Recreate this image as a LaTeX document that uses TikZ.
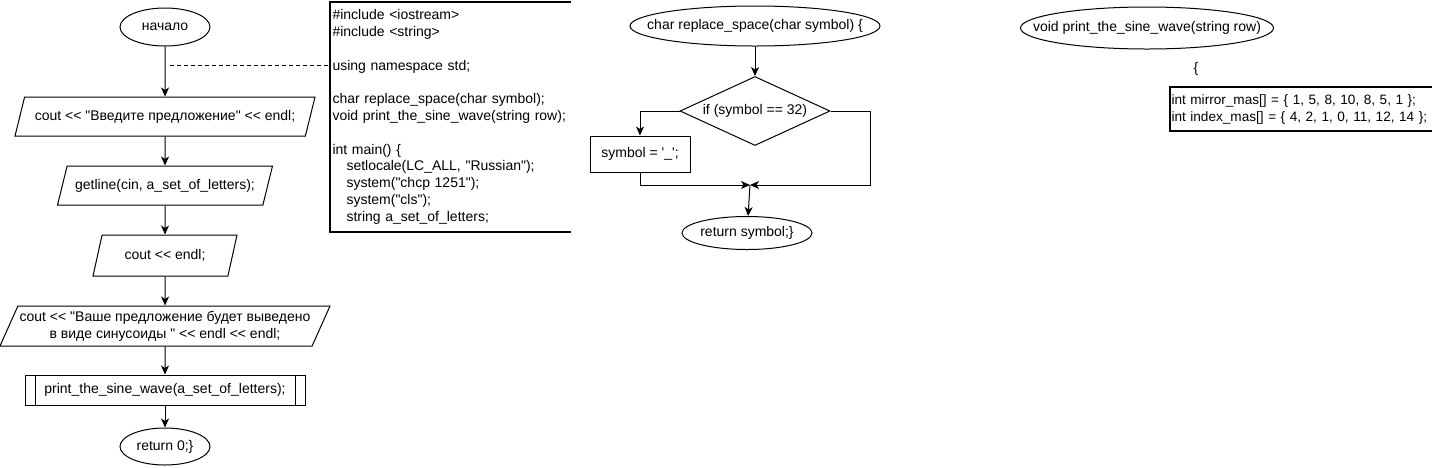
\documentclass[tikz,border=0pt]{standalone}
\usepackage{fontspec}
\setmainfont{Liberation Sans}[Ligatures=TeXOff]
\usetikzlibrary{arrows.meta,shapes.geometric}
\tikzset{term/.style={draw,ellipse,inner ysep=0pt,inner xsep=-40pt},io/.style={draw,trapezium,trapezium left angle=64,trapezium right angle=116,trapezium stretches body,inner xsep=0pt,align=center},
proc/.style={draw,inner sep=0pt},cond/.style={draw,diamond,aspect=2.17,inner sep=0pt,minimum width=150,minimum height=69},
sub/.style={draw,inner sep=0pt,minimum width=280,minimum height=30,path picture={\draw([xshift=10pt]path picture bounding box.north west)--([xshift=10pt]path picture bounding box.south west)([xshift=-10pt]path picture bounding box.north east)--([xshift=-10pt]path picture bounding box.south east);}},
code/.style={align=left,inner xsep=2pt,inner ysep=7pt,anchor=north west},bracket/.style={line width=2pt},arr/.style={-{Stealth[length=9pt,width=8pt,inset=2.5pt]}}}

\begin{document}
\begin{tikzpicture}[x=1pt,y=-1pt,line width=1pt,every node/.style={font=\fontsize{14}{16.8}\selectfont}]
\useasboundingbox(0,0)rectangle(1432,467);
\node[term,minimum width=90,minimum height=38](start)at(165,27){начало};
\node[io,minimum width=300,minimum height=39](p1)at(165,116.5){cout << "Введите предложение" << endl;};
\node[io,minimum width=215,minimum height=39](p2)at(165,185.5){getline(cin, a\_set\_of\_letters);};
\node[io,minimum width=144,minimum height=41](p3)at(165,255.5){cout << endl;};
\node[io,minimum width=330,minimum height=40](p4)at(165,326){cout << "Ваше предложение будет выведено\\в виде синусоиды " << endl << endl;};
\node[sub](wave)at(165,390){print\_the\_sine\_wave(a\_set\_of\_letters);};
\node[term,minimum width=90,minimum height=37](ret0)at(165,446.5){return 0;\}};
\foreach\a/\b in{start/p1,p1/p2,p2/p3,p3/p4,p4/wave,wave/ret0}\draw[arr](\a)--(\b);
\node[code,text width=236](code)at(330,2){\#include <iostream>\\\#include <string>\\\mbox{}\\using namespace std;\\\mbox{}\\char replace\_space(char symbol);\\void print\_the\_sine\_wave(string row);\\\mbox{}\\int main() \{\\\hspace*{14pt}setlocale(LC\_ALL, "Russian");\\\hspace*{14pt}system("chcp 1251");\\\hspace*{14pt}system("cls");\\\hspace*{14pt}string a\_set\_of\_letters;};
\draw[bracket](code.north east)--(code.north west)--(code.south west)--(code.south east);
\coordinate(tap)at(170,65);
\draw[dash pattern=on 4pt off 3pt](tap)--(tap-|code.west);
\node[term,minimum width=250,minimum height=40](rs)at(755,26){char replace\_space(char symbol) \{};
\node[cond](if)at(755,111){if (symbol == 32)};
\node[proc,minimum width=100,minimum height=36](sym)at(640,154){symbol = \textquotesingle\_\textquotesingle;};
\coordinate(join)at(750,185);
\node[term,minimum width=130,minimum height=33](rets)at(747,233){return symbol;\}};
\draw[arr](rs)--(if);
\draw[arr](if.west)-|(sym);
\draw[arr](sym.south)|-(join);
\draw[arr](if.east)--++(40,0)|-(join);
\draw[arr](join)--(rets);
\node[term,minimum width=253,minimum height=42](sw)at(1147,28){void print\_the\_sine\_wave(string row)};
\node(brace)at(1196,69){\{};
\node[code,text width=280,inner xsep=1pt,font=\fontsize{13.6}{16.8}\selectfont](arrays)at(1170,87){int mirror\_mas[] = \{ 1, 5, 8, 10, 8, 5, 1 \};\\int index\_mas[] = \{ 4, 2, 1, 0, 11, 12, 14 \};};
\draw[bracket](arrays.north east)--(arrays.north west)--(arrays.south west)--(arrays.south east);
\end{tikzpicture}
\end{document}
